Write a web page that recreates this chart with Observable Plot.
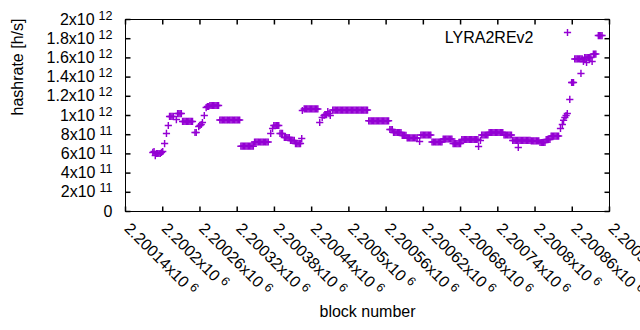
<!DOCTYPE html>
<html><head><meta charset="utf-8">
<script src="https://cdn.jsdelivr.net/npm/d3@7"></script>
<script src="https://cdn.jsdelivr.net/npm/@observablehq/plot@0.6"></script>
<style>body{margin:0;background:#fff}#chart svg{display:block}</style>
</head><body><div id="chart"></div>
<script>
const blockNumbers = [
  2200184, 2200186, 2200188, 2200190, 2200192, 2200194, 2200196, 2200198, 2200200,
  2200203, 2200206, 2200209, 2200211, 2200213, 2200215, 2200217, 2200222,
  2200224, 2200226, 2200228, 2200230,
  2200232, 2200234, 2200236, 2200238, 2200240, 2200242, 2200244, 2200246, 2200248,
  2200252, 2200254, 2200258, 2200260, 2200262, 2200264, 2200267, 2200270, 2200272, 2200274,
  2200276, 2200278, 2200280, 2200282, 2200284, 2200286, 2200288, 2200290,
  2200292, 2200294, 2200296, 2200298, 2200300, 2200302, 2200304, 2200306, 2200308, 2200310, 2200312, 2200314, 2200316, 2200318, 2200320, 2200322, 2200324,
  2200326, 2200328, 2200330, 2200332, 2200334, 2200336, 2200338, 2200340, 2200342, 2200344, 2200346,
  2200348, 2200350, 2200352, 2200354, 2200356, 2200358, 2200360, 2200362, 2200364, 2200366, 2200368, 2200370,
  2200374, 2200377, 2200379, 2200381, 2200383, 2200385, 2200387, 2200389, 2200391, 2200393,
  2200396, 2200398, 2200400, 2200402, 2200404, 2200406, 2200408, 2200410, 2200412,
  2200414, 2200416, 2200418, 2200420, 2200422, 2200424,
  2200425, 2200428,
  2200430, 2200432, 2200434, 2200436, 2200438, 2200440, 2200442, 2200444, 2200446, 2200448, 2200450,
  2200453, 2200457, 2200460, 2200462, 2200464, 2200466, 2200468, 2200470,
  2200474, 2200476, 2200478, 2200480, 2200482, 2200484, 2200486, 2200488, 2200490, 2200492, 2200494, 2200496, 2200498, 2200500, 2200502, 2200504, 2200506, 2200508, 2200510, 2200512, 2200514, 2200516, 2200518, 2200520, 2200522, 2200524, 2200526, 2200528, 2200530,
  2200532, 2200534, 2200536, 2200538, 2200540, 2200542, 2200544, 2200546, 2200548, 2200550, 2200552, 2200554, 2200556, 2200558, 2200560, 2200562, 2200564,
  2200566, 2200568, 2200570,
  2200572, 2200574, 2200576, 2200578, 2200580, 2200582, 2200584,
  2200586, 2200588, 2200590, 2200592,
  2200594, 2200596, 2200598, 2200600, 2200602, 2200604, 2200606, 2200608, 2200610,
  2200614,
  2200616, 2200618, 2200620, 2200622, 2200624, 2200626, 2200628, 2200630, 2200632,
  2200634, 2200636, 2200638, 2200640, 2200642, 2200644, 2200646, 2200648, 2200650,
  2200652, 2200654, 2200656, 2200658, 2200660, 2200662, 2200664, 2200666,
  2200668, 2200670, 2200672, 2200674, 2200676, 2200678, 2200680,
  2200682, 2200684, 2200686, 2200688, 2200690, 2200692, 2200694, 2200696, 2200698, 2200700, 2200702, 2200704, 2200706, 2200708,
  2200709, 2200712,
  2200714, 2200716, 2200718, 2200720, 2200722, 2200724,
  2200726, 2200728, 2200730, 2200732, 2200734, 2200736, 2200738, 2200740, 2200742, 2200744, 2200746, 2200748,
  2200750, 2200752, 2200754, 2200756, 2200758, 2200760, 2200762,
  2200764, 2200766, 2200768, 2200770, 2200772, 2200773, 2200774, 2200776, 2200778, 2200780,
  2200782, 2200784, 2200786, 2200788, 2200790, 2200792,
  2200794, 2200796, 2200798, 2200800, 2200802, 2200804, 2200806,
  2200808, 2200810, 2200812, 2200814, 2200816,
  2200818, 2200820, 2200822, 2200824,
  2200826, 2200828, 2200830, 2200832, 2200834, 2200836, 2200838,
  2200841, 2200844, 2200846, 2200848, 2200850, 2200852, 2200856, 2200859, 2200860, 2200862,
  2200864, 2200866, 2200868, 2200870, 2200872, 2200874, 2200874, 2200876,
  2200878, 2200880, 2200882, 2200883, 2200884, 2200886, 2200888, 2200890, 2200892,
  2200894, 2200896, 2200898,
  2200902, 2200904, 2200906, 2200908
];
// hashrate in units of 10^11 h/s, one value per block number above
const hashrateE11 = [
  6.15, 6.25, 5.83, 6.04, 6.04, 6.04, 6.04, 6.15, 6.25,
  7.08, 8.13, 8.96, 9.9, 9.9, 9.9, 9.9, 9.58,
  10.2, 10.2, 10.2, 10.2,
  9.38, 9.38, 9.38, 9.38, 9.38, 9.38, 9.38, 9.38, 9.38,
  8.23, 8.23, 8.85, 8.96, 9.06, 9.27, 10.0, 10.83, 10.94, 10.94,
  11.04, 11.04, 11.04, 11.04, 11.04, 11.04, 11.04, 11.04,
  9.53, 9.53, 9.53, 9.53, 9.53, 9.53, 9.53, 9.53, 9.53, 9.53, 9.53, 9.53, 9.53, 9.53, 9.53, 9.53, 9.53,
  6.8, 6.8, 6.8, 6.8, 6.8, 6.8, 6.8, 6.8, 6.8, 6.8, 6.8,
  7.24, 7.24, 7.24, 7.24, 7.24, 7.24, 7.24, 7.24, 7.24, 7.24, 7.24, 7.24,
  8.13, 8.65, 8.96, 8.96, 8.96, 8.96, 8.96, 8.13, 8.13, 8.13,
  7.71, 7.71, 7.71, 7.71, 7.71, 7.4, 7.4, 7.4, 7.4,
  7.08, 7.08, 7.08, 7.08, 7.08, 7.6,
  10.52, 10.68,
  10.68, 10.68, 10.68, 10.68, 10.68, 10.68, 10.68, 10.68, 10.68, 10.68, 10.68,
  9.27, 9.79, 10.0, 10.1, 10.1, 10.4, 10.2, 10.0,
  10.57, 10.57, 10.57, 10.57, 10.57, 10.57, 10.57, 10.57, 10.57, 10.57, 10.57, 10.57, 10.57, 10.57, 10.57, 10.57, 10.57, 10.57, 10.57, 10.57, 10.57, 10.57, 10.57, 10.57, 10.57, 10.57, 10.57, 10.57, 10.57,
  9.45, 9.45, 9.45, 9.45, 9.45, 9.45, 9.45, 9.45, 9.45, 9.45, 9.45, 9.45, 9.45, 9.45, 9.45, 9.45, 9.45,
  8.54, 8.54, 8.54,
  8.23, 8.23, 8.23, 8.23, 8.23, 8.23, 8.23,
  7.92, 7.92, 7.92, 7.92,
  7.66, 7.66, 7.66, 7.66, 7.66, 7.66, 7.66, 7.66, 7.66,
  7.29,
  7.97, 7.97, 7.97, 7.97, 7.97, 7.97, 7.97, 7.97, 7.97,
  7.24, 7.24, 7.24, 7.24, 7.24, 7.24, 7.24, 7.24, 7.24,
  7.55, 7.55, 7.55, 7.55, 7.55, 7.55, 7.55, 7.55,
  7.08, 7.08, 7.08, 7.08, 7.08, 7.08, 7.08,
  7.5, 7.5, 7.5, 7.5, 7.5, 7.5, 7.5, 7.5, 7.5, 7.5, 7.5, 7.5, 7.5, 7.5,
  6.77, 7.4,
  7.97, 7.97, 7.97, 7.97, 7.97, 7.97,
  8.23, 8.23, 8.23, 8.23, 8.23, 8.23, 8.23, 8.23, 8.23, 8.23, 8.23, 8.23,
  7.97, 7.97, 7.97, 7.97, 7.97, 7.97, 7.97,
  7.4, 7.4, 7.4, 7.4, 7.4, 6.67, 7.4, 7.4, 7.4, 7.4,
  7.4, 7.4, 7.4, 7.4, 7.4, 7.4,
  7.35, 7.35, 7.35, 7.35, 7.35, 7.35, 7.35,
  7.19, 7.19, 7.19, 7.19, 7.19,
  7.5, 7.5, 7.5, 7.5,
  7.86, 7.86, 7.86, 7.86, 7.86, 7.86, 7.86,
  8.65, 9.06, 9.5, 9.79, 10.0, 10.2, 11.67, 13.44, 13.44, 13.44,
  15.89, 15.89, 15.89, 15.89, 15.89, 15.89, 14.38, 15.89,
  15.63, 16.04, 16.04, 15.52, 16.04, 16.04, 16.04, 16.04, 15.63,
  16.4, 16.4, 16.4,
  18.33, 18.33, 18.33, 18.33
];
const xTicks = [2200140, 2200200, 2200260, 2200320, 2200380, 2200440, 2200500, 2200560, 2200620, 2200680, 2200740, 2200800, 2200860, 2200920];
const xTickLabels = ["2.20014x10^{6}", "2.2002x10^{6}", "2.20026x10^{6}", "2.20032x10^{6}", "2.20038x10^{6}", "2.20044x10^{6}", "2.2005x10^{6}", "2.20056x10^{6}", "2.20062x10^{6}", "2.20068x10^{6}", "2.20074x10^{6}", "2.2008x10^{6}", "2.20086x10^{6}", "2.20092x10^{6}"];
const yTicks = [0, 2e11, 4e11, 6e11, 8e11, 1e12, 1.2e12, 1.4e12, 1.6e12, 1.8e12, 2e12];
const yTickLabels = ["0", "2x10^{11}", "4x10^{11}", "6x10^{11}", "8x10^{11}", "1x10^{12}", "1.2x10^{12}", "1.4x10^{12}", "1.6x10^{12}", "1.8x10^{12}", "2x10^{12}"];
const seriesName = "LYRA2REv2";
const xLabel = "block number";
const yLabel = "hashrate [h/s]";

const data = blockNumbers.map((b, i) => ({block: b, hashrate: hashrateE11[i] * 1e11}));
const color = "#9400d3";

const rad = (s) => Math.sqrt(s / Math.PI);
const plusSymbol = {draw(c, s) { const r = rad(s); c.moveTo(-r, 0); c.lineTo(r, 0); c.moveTo(0, -r); c.lineTo(0, r); }};
const tickUp = {draw(c, s) { const r = rad(s); c.moveTo(0, 0); c.lineTo(0, -r); }};
const tickDown = {draw(c, s) { const r = rad(s); c.moveTo(0, 0); c.lineTo(0, r); }};
const tickRight = {draw(c, s) { const r = rad(s); c.moveTo(0, 0); c.lineTo(r, 0); }};
const tickLeft = {draw(c, s) { const r = rad(s); c.moveTo(0, 0); c.lineTo(-r, 0); }};

const svg = Plot.plot({
  width: 640, height: 330,
  marginLeft: 125, marginRight: 31, marginTop: 19, marginBottom: 119,
  x: {domain: [2200140, 2200920], axis: null},
  y: {domain: [0, 2e12], axis: null},
  style: {fontFamily: "'Liberation Sans', Arial, sans-serif", fontSize: "16px", color: "black", background: "white", overflow: "visible"},
  marks: [
    Plot.dot(data, {x: "block", y: "hashrate", symbol: plusSymbol, r: 3.6, stroke: color, strokeWidth: 1.45, fill: "none"}),
    Plot.dot(xTicks, {x: d => d, frameAnchor: "bottom", symbol: tickUp, r: 5, stroke: "black", fill: "none"}),
    Plot.dot(xTicks, {x: d => d, frameAnchor: "top", symbol: tickDown, r: 5, stroke: "black", fill: "none"}),
    Plot.dot(yTicks, {y: d => d, frameAnchor: "left", symbol: tickRight, r: 5, stroke: "black", fill: "none"}),
    Plot.dot(yTicks, {y: d => d, frameAnchor: "right", symbol: tickLeft, r: 5, stroke: "black", fill: "none"}),
    Plot.frame({stroke: "black"}),
    Plot.text(yTicks, {y: d => d, frameAnchor: "left", text: (d, i) => yTickLabels[i], textAnchor: "end", dx: -13, fill: "black", className: "ytl"}),
    Plot.text(xTicks, {x: d => d, frameAnchor: "bottom", text: (d, i) => xTickLabels[i], rotate: 45, textAnchor: "start", lineAnchor: "bottom", dx: -2, dy: 18, fill: "black", className: "xtl"}),
    Plot.text([yLabel], {frameAnchor: "left", text: d => d, rotate: -90, dx: -108, fill: "black"}),
    Plot.text([xLabel], {frameAnchor: "bottom", text: d => d, dy: 105, fill: "black"}),
    Plot.text([seriesName], {frameAnchor: "top-right", text: d => d, textAnchor: "end", dx: -76, dy: 12, fill: "black"}),
    Plot.dot([seriesName], {frameAnchor: "top-right", dx: -42, dy: 13, symbol: plusSymbol, r: 3.6, stroke: color, strokeWidth: 1.45, fill: "none"})
  ]
});

const ns = "http://www.w3.org/2000/svg";
function supify(sel, supSize, dxSup, dySup) {
  svg.querySelectorAll(sel).forEach(t => {
    const m = t.textContent.match(/^(.*)\^\{(.*)\}$/);
    if (!m) return;
    t.textContent = "";
    const a = document.createElementNS(ns, "tspan"); a.textContent = m[1]; t.appendChild(a);
    const b = document.createElementNS(ns, "tspan");
    b.setAttribute("dx", dxSup); b.setAttribute("dy", -dySup); b.setAttribute("font-size", supSize);
    b.textContent = m[2]; t.appendChild(b);
  });
}
supify(".ytl text", 12.5, 4, 5);
supify(".xtl text", 12.5, 4, 5);
document.getElementById("chart").appendChild(svg);
</script>
</body></html>
